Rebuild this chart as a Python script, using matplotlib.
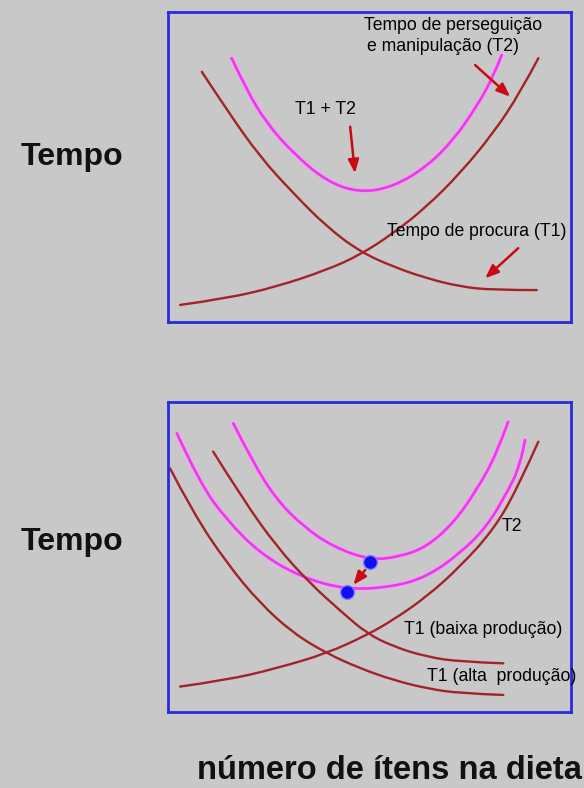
import matplotlib
matplotlib.use("Agg")
import matplotlib.pyplot as plt
from matplotlib.path import Path
from matplotlib.patches import PathPatch

plt.rcParams['font.family'] = ['Liberation Sans', 'DejaVu Sans']

# ---- Top panel data (x: número de itens, y: tempo; arbitrary 0-100 units)
top_t1_x = [8.4, 14.6, 22.8, 31.1, 39.4, 47.6, 55.9, 64.2, 72.5, 80.7, 91.5]
top_t1_y = [80.7, 68.4, 53.3, 41.5, 30.7, 22.7, 17.8, 14.1, 11.4, 10.3, 10.3]
top_t2_x = [3.0, 14.6, 27.0, 39.4, 47.6, 55.9, 64.2, 72.5, 80.7, 87.3, 91.9]
top_t2_y = [5.5, 7.6, 11.4, 16.8, 21.6, 28.6, 37.2, 48.0, 60.9, 73.8, 85.1]
top_sum_x = [15.8, 19.5, 24.5, 31.1, 39.4, 47.6, 55.9, 64.2, 70.8, 76.6, 80.7, 82.8]
top_sum_y = [85.1, 74.8, 64.1, 54.4, 45.3, 41.7, 43.6, 50.1, 58.7, 69.5, 79.1, 86.1]

# ---- Bottom panel data
bot_t1_alta_x = [0.5, 6.3, 14.6, 22.8, 31.1, 39.4, 47.6, 55.9, 64.2, 72.5, 83.2]
bot_t1_alta_y = [78.6, 64.1, 48.0, 35.1, 25.4, 18.9, 14.1, 10.3, 7.6, 6.0, 5.5]
bot_t1_baixa_x = [11.2, 18.7, 27.0, 35.2, 43.5, 49.3, 55.9, 64.2, 72.5, 83.2]
bot_t1_baixa_y = [84.0, 68.4, 53.3, 41.5, 31.8, 25.4, 21.1, 17.8, 16.2, 15.7]
bot_t2_x = [3.0, 14.6, 27.0, 39.4, 49.3, 55.9, 64.2, 72.5, 80.7, 86.5, 91.9]
bot_t2_y = [8.2, 10.3, 14.1, 18.9, 24.8, 29.7, 37.2, 46.9, 58.7, 71.6, 87.2]
bot_sum_baixa_x = [16.2, 21.2, 27.0, 33.6, 41.0, 50.1, 57.6, 64.2, 70.8, 76.6, 81.6, 84.4]
bot_sum_baixa_y = [93.1, 80.2, 68.4, 59.8, 53.3, 49.0, 50.1, 53.3, 60.9, 71.6, 83.4, 93.6]
bot_sum_alta_x = [2.2, 7.9, 14.6, 22.8, 32.8, 44.3, 55.9, 64.2, 72.5, 79.1, 84.0, 87.3, 88.6]
bot_sum_alta_y = [89.9, 73.8, 61.9, 51.2, 43.6, 39.4, 40.4, 43.6, 51.2, 59.8, 70.5, 79.1, 87.7]
optima_x = [50.1, 44.5]
optima_y = [48.5, 38.8]

RED = '#a3232b'
MAG = '#e83ce8'
HALO = '#f2a6f2'
BG = '#c8c8c8'
BLUE = '#2a2ae0'
ARROW = '#c80a14'

fig = plt.figure(figsize=(5.84, 7.88), dpi=100, facecolor=BG)


def make_ax(bottom):
    ax = fig.add_axes([168/584, bottom, 403/584, 310/788])
    ax.set_facecolor(BG)
    ax.set_xlim(0, 100)
    ax.set_ylim(0, 100)
    ax.set_xticks([])
    ax.set_yticks([])
    for s in ax.spines.values():
        s.set_color(BLUE)
        s.set_linewidth(2.0)
    return ax


def smooth_curve(ax, xs, ys, color, lw, zorder=2):
    """Draw a smooth quadratic-Bezier path with the read points as controls."""
    pts = list(zip(xs, ys))
    verts = [pts[0]]
    codes = [Path.MOVETO]
    for i in range(1, len(pts) - 1):
        mid = ((pts[i][0] + pts[i + 1][0]) / 2, (pts[i][1] + pts[i + 1][1]) / 2)
        if i == len(pts) - 2:
            mid = pts[-1]
        verts += [pts[i], mid]
        codes += [Path.CURVE3, Path.CURVE3]
    patch = PathPatch(Path(verts, codes), facecolor='none', edgecolor=color,
                      lw=lw, capstyle='round', zorder=zorder)
    ax.add_patch(patch)


def arrow(ax, x0, y0, x1, y1):
    ax.annotate('', xy=(x1, y1), xytext=(x0, y0),
                arrowprops=dict(arrowstyle='-|>,head_length=0.8,head_width=0.32',
                                color=ARROW, lw=1.8, shrinkA=0, shrinkB=0))


fs = 12.7

# Top panel
ax1 = make_ax(1 - 322/788)
smooth_curve(ax1, top_sum_x, top_sum_y, HALO, 3.6)
smooth_curve(ax1, top_sum_x, top_sum_y, MAG, 1.9)
smooth_curve(ax1, top_t1_x, top_t1_y, RED, 1.7)
smooth_curve(ax1, top_t2_x, top_t2_y, RED, 1.7)
arrow(ax1, 45.2, 63.0, 46.4, 48.0)
arrow(ax1, 76.2, 82.9, 84.9, 72.7)
arrow(ax1, 86.9, 23.8, 78.7, 14.1)
ax1.text(39.0, 68.4, 'T1 + T2', ha='center', va='center', fontsize=fs)
ax1.text(70.8, 95.8, 'Tempo de perseguição', ha='center', va='center', fontsize=fs)
ax1.text(68.3, 88.8, 'e manipulação (T2)', ha='center', va='center', fontsize=fs)
ax1.text(76.6, 29.1, 'Tempo de procura (T1)', ha='center', va='center', fontsize=fs)

# Bottom panel
ax2 = make_ax(1 - 712/788)
for xs, ys in [(bot_sum_baixa_x, bot_sum_baixa_y), (bot_sum_alta_x, bot_sum_alta_y)]:
    smooth_curve(ax2, xs, ys, HALO, 3.6)
    smooth_curve(ax2, xs, ys, MAG, 1.9)
smooth_curve(ax2, bot_t1_alta_x, bot_t1_alta_y, RED, 1.7)
smooth_curve(ax2, bot_t1_baixa_x, bot_t1_baixa_y, RED, 1.7)
smooth_curve(ax2, bot_t2_x, bot_t2_y, RED, 1.7)
arrow(ax2, 48.9, 45.8, 46.0, 41.0)
ax2.scatter(optima_x, optima_y, s=100, color='#1010f0', edgecolors='#8080ff',
            linewidths=1.0, zorder=5)
ax2.text(85.3, 59.8, 'T2', ha='center', va='center', fontsize=fs)
ax2.text(78.2, 26.5, 'T1 (baixa produção)', ha='center', va='center', fontsize=fs)
ax2.text(82.8, 11.4, 'T1 (alta  produção)', ha='center', va='center', fontsize=fs)

# Outer labels
fig.text(21/584, 1 - 165/788, 'Tempo', ha='left', va='baseline', fontsize=23,
         fontweight='bold', color='#111111')
fig.text(21/584, 1 - 550/788, 'Tempo', ha='left', va='baseline', fontsize=23,
         fontweight='bold', color='#111111')
fig.text(389/584, 2/788, 'número de ítens na dieta', ha='center',
         va='bottom', fontsize=23.5, fontweight='bold', color='#111111')

fig.savefig('out.png', dpi=100, facecolor=BG)
